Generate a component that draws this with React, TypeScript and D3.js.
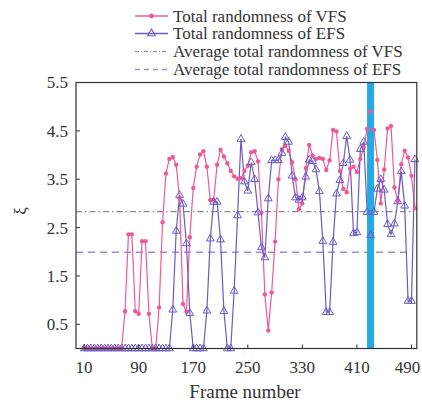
import React from 'react';
import * as d3 from 'd3';

// Frame numbers (x axis)
const frames: number[] = d3.range(10, 500, 5);

// Total randomness of VFS
const vfs: number[] = [
  0, 0, 0, 0, 0, 0, 0, 0, 0, 0, 0, 0,
  0.77, 2.36, 2.36, 0.77, 0.72, 2.22, 2.22, 0.72, 0, 0, 0.85, 2.61, 3.62, 3.92, 3.96, 3.8,
  3.1, 0.92, 0.76, 2.3, 3.32, 3.76, 4.01, 4.08, 3.76, 3.07, 3.07, 3.8, 4.11, 3.97, 3.83, 3.67,
  3.56, 3.51, 3.52, 3.67, 3.78, 4.06, 4.08, 3.87, 2.81, 1.12, 0.37, 1.16, 2.21, 3.5, 4.12, 4.19,
  4.09, 3.85, 3.5, 2.88, 3.0, 3.73, 4.21, 3.99, 3.92, 3.94, 3.92, 3.69, 3.89, 4.52, 4.49, 3.67,
  3.3, 3.23, 3.72, 3.76, 3.65, 3.92, 4.15, 4.54, 4.9, 4.52, 3.9, 3.0, 3.7, 4.55, 4.6, 3.33,
  3.05, 3.81, 4.09, 3.95, 3.57, 2.9,
];

// Total randomness of EFS
const efs: number[] = [
  0, 0, 0, 0, 0, 0, 0, 0, 0, 0, 0, 0, 0, 0, 0, 0, 0, 0, 0, 0, 0, 0, 0, 0, 0, 0,
  0.8, 2.43, 3.17, 2.99, 2.17, 0.73, 0, 0, 0, 0, 0.78, 2.27, 3.03, 3.03, 2.25, 0.77,
  0, 0, 1.19, 2.75, 4.33, 3.45, 3.26, 3.85, 3.5, 2.81, 2.09, 1.88, 3.1, 3.89, 3.89, 3.89,
  4.04, 4.37, 4.27, 3.57, 3.12, 3.07, 3.12, 3.55, 3.9, 3.87, 3.7, 3.25, 2.22, 0.75, 0.75, 2.2,
  3.2, 3.48, 3.83, 4.39, 3.9, 2.38, 2.4, 4.12, 4.27, 2.82, 2.34, 2.82, 3.3, 3.5, 3.28, 2.57,
  2.36, 2.58, 3.04, 3.66, 2.95, 0.98, 0.98, 3.91,
];

const avgVfs = 2.83;
const avgEfs = 1.99;
const highlightFrame = 430;
const avgLineEnd = 490;

const xTicks: number[] = [10, 90, 170, 250, 330, 410, 490];
const yTicks: number[] = [0.5, 1.5, 2.5, 3.5, 4.5, 5.5];

const legendLabels: string[] = [
  'Total randomness of VFS',
  'Total randomness of EFS',
  'Average total randomness of VFS',
  'Average total randomness of EFS',
];

const PINK = '#ee5a97';
const PURPLE = '#6b5bc4';
const GRAY = '#8a8a8a';
const LPURPLE = '#9b8fdc';
const BLUE = '#27a9e1';
const FONT = '"Liberation Serif", "Times New Roman", serif';

export default function App() {
  const L = 76, R = 416.8, T = 82.5, B = 348.5;
  const x = d3.scaleLinear().domain([-1.9, 497.8]).range([L, R]);
  const y = d3.scaleLinear().domain([0, 5.5]).range([B, T]);

  const line = d3
    .line<[number, number]>()
    .x((d) => x(d[0]))
    .y((d) => y(d[1]));

  const vfsPts: [number, number][] = frames.map((f, i) => [f, vfs[i]]);
  const efsPts: [number, number][] = frames.map((f, i) => [f, efs[i]]);
  const tri = d3.symbol(d3.symbolTriangle, 26)() as string;

  const legendY = [16, 33.5, 51.5, 69.5];

  return (
    <svg
      width={422}
      height={402}
      style={{ position: 'absolute', left: 0, top: 0, background: '#fff', fontFamily: FONT }}
    >
      <rect x={0} y={0} width={422} height={402} fill="#fff" />

      {/* Legend */}
      <g>
        <line x1={135} x2={168} y1={legendY[0]} y2={legendY[0]} stroke={PINK} strokeWidth={1.3} />
        <circle cx={151.5} cy={legendY[0]} r={2.4} fill={PINK} />
        <line x1={135} x2={168} y1={legendY[1]} y2={legendY[1]} stroke={PURPLE} strokeWidth={1.3} />
        <path d={tri} transform={`translate(151.5,${legendY[1]})`} fill="none" stroke={PURPLE} strokeWidth={1.1} />
        <line x1={135} x2={168} y1={legendY[2]} y2={legendY[2]} stroke={GRAY} strokeWidth={1.1} strokeDasharray="4 2 1 2" />
        <line x1={135} x2={168} y1={legendY[3]} y2={legendY[3]} stroke={LPURPLE} strokeWidth={1.3} strokeDasharray="5 4" />
        {legendLabels.map((t, i) => (
          <text key={t} x={173} y={legendY[i]} dy="0.35em" fontSize={17} fill="#333">
            {t}
          </text>
        ))}
      </g>

      {/* Average lines */}
      <line x1={L} x2={x(avgLineEnd)} y1={y(avgVfs)} y2={y(avgVfs)} stroke={GRAY} strokeWidth={1.1} strokeDasharray="6 3 1.5 3" />
      <line x1={L} x2={x(avgLineEnd)} y1={y(avgEfs)} y2={y(avgEfs)} stroke={LPURPLE} strokeWidth={1.3} strokeDasharray="7 5" />

      {/* Series lines */}
      <path d={line(vfsPts) as string} fill="none" stroke={PINK} strokeWidth={1.2} />
      <path d={line(efsPts) as string} fill="none" stroke={PURPLE} strokeWidth={1.2} />

      {/* Highlight bar */}
      <rect x={x(highlightFrame) - 3.5} y={T} width={7} height={B - T} fill={BLUE} />

      {/* Markers */}
      {vfsPts.map((d, i) => (
        <circle key={'v' + i} cx={x(d[0])} cy={y(d[1])} r={2.2} fill={PINK} />
      ))}
      {efsPts.map((d, i) => (
        <path
          key={'e' + i}
          d={tri}
          transform={`translate(${x(d[0])},${y(d[1])})`}
          fill="none"
          stroke={PURPLE}
          strokeWidth={1}
        />
      ))}

      {/* Frame */}
      <rect x={L} y={T} width={R - L} height={B - T} fill="none" stroke="#333" strokeWidth={1.2} />

      {/* Y ticks */}
      {yTicks.map((t) => (
        <g key={'y' + t}>
          <line x1={L} x2={L + 4} y1={y(t)} y2={y(t)} stroke="#333" strokeWidth={1} />
          <text x={68} y={y(t)} dy="0.35em" textAnchor="end" fontSize={17} fill="#333">
            {t.toFixed(1)}
          </text>
        </g>
      ))}

      {/* X ticks */}
      {xTicks.map((t) => (
        <g key={'x' + t}>
          <line x1={x(t)} x2={x(t)} y1={B} y2={B - 4} stroke="#333" strokeWidth={1} />
          <text x={Math.min(x(t), 407.5)} y={373} textAnchor="middle" fontSize={17} fill="#333">
            {t}
          </text>
        </g>
      ))}

      {/* Axis titles */}
      <text x={245} y={398} textAnchor="middle" fontSize={19} fill="#333">
        Frame number
      </text>
      <text transform="translate(20,211) rotate(-90)" textAnchor="middle" dy="0.35em" fontSize={17} fill="#333">
        ξ
      </text>
    </svg>
  );
}
